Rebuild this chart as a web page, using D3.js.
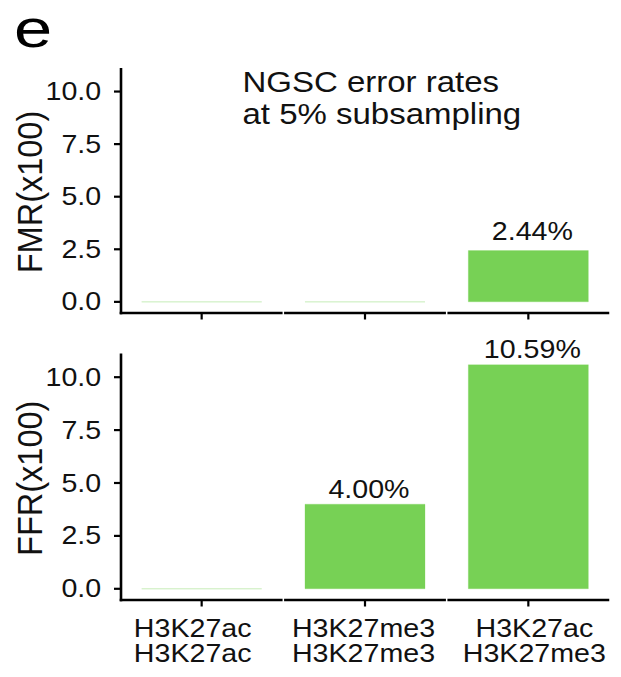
<!DOCTYPE html>
<html>
<head>
<meta charset="utf-8">
<script src="https://cdn.jsdelivr.net/npm/d3@7"></script>
<style>
  html, body { margin: 0; padding: 0; background: #fff; }
  svg { display: block; }
</style>
</head>
<body>
<svg id="chart" width="621" height="677"></svg>
<script>
// Pairs of marks compared (two lines per category label)
const categories = ["H3K27ac / H3K27ac", "H3K27me3 / H3K27me3", "H3K27ac / H3K27me3"];
// Error rates in percent (x100)
const fmrValues = [0.00, 0.00, 2.44];
const ffrValues = [0.00, 4.00, 10.59];
const yTicks = [0, 2.5, 5.0, 7.5, 10.0];
const titleLines = ["NGSC error rates", "at 5% subsampling"];
const panelLetter = "e";

const FONT = "'Liberation Sans', Arial, Helvetica, sans-serif";
const SX = 1.1;            // horizontal widening of the type
const GREEN = "#77d155";
const INK = "#111";
const AXIS_W = 2.6;

const svg = d3.select("#chart");

const x = d3.scaleBand()
  .domain(categories)
  .range([120, 610])
  .paddingInner(0.265)
  .paddingOuter(0.1325);

const vmax = d3.max(fmrValues.concat(ffrValues));
const yDomain = [-0.05 * vmax, 1.05 * vmax];

// Text helper: widened horizontally around its anchor point
function label(parent, px, py, str, size, anchor, rotate) {
  return parent.append("text")
    .attr("transform", `translate(${px},${py}) scale(${SX},1)` + (rotate ? ` rotate(${rotate})` : ""))
    .attr("font-family", FONT)
    .attr("font-size", size)
    .attr("fill", INK)
    .attr("text-anchor", anchor)
    .text(str);
}

// Panel letter
svg.append("text")
  .attr("transform", "translate(14,46.5) scale(1.27,1)")
  .attr("font-family", FONT)
  .attr("font-size", 54)
  .attr("fill", "#000")
  .text(panelLetter);

// Title
titleLines.forEach((s, i) => label(svg, 242.5, 91.5 + i * 32.3, s, 30, "start"));

const panels = [
  { title: "FMR(x100)", values: fmrValues, range: [313, 68],    labelGap: 11,  xLabels: false },
  { title: "FFR(x100)", values: ffrValues, range: [600, 353.5], labelGap: 6.5, xLabels: true }
];

const centers = categories.map(c => x(c) + x.bandwidth() / 2);
const midCenter = d3.mean(centers);

panels.forEach(p => {
  const y = d3.scaleLinear().domain(yDomain).range(p.range);
  const g = svg.append("g");
  const base = p.range[0];
  const axisX = 121;

  // Bars (drawn as paths so zero-height bars still show a faint hairline)
  g.selectAll("path.bar")
    .data(categories.map((c, i) => ({ c, v: p.values[i] })))
    .join("path")
    .attr("class", "bar")
    .attr("d", d => {
      const x0 = x(d.c), x1 = x0 + x.bandwidth();
      const y0 = y(0), y1 = y(d.v);
      return `M${x0},${y0}H${x1}V${y1}H${x0}Z`;
    })
    .attr("fill", GREEN)
    .attr("stroke", GREEN)
    .attr("stroke-opacity", 0.45)
    .attr("stroke-width", 0.5);

  // Value labels
  categories.forEach((c, i) => {
    const v = p.values[i];
    if (v > 0) {
      label(g, x(c) + x.bandwidth() / 2 + 4, y(v) - p.labelGap, v.toFixed(2) + "%", 26, "middle");
    }
  });

  // Y axis line and ticks
  g.append("line")
    .attr("x1", axisX).attr("x2", axisX)
    .attr("y1", p.range[1]).attr("y2", base + AXIS_W / 2)
    .attr("stroke", "#000").attr("stroke-width", AXIS_W);
  yTicks.forEach(t => {
    g.append("line")
      .attr("x1", axisX - 7).attr("x2", axisX)
      .attr("y1", y(t)).attr("y2", y(t))
      .attr("stroke", "#000").attr("stroke-width", 2.2);
    label(g, 101.2, y(t) + 26 * 0.33, t.toFixed(1), 26, "end");
  });

  // X axis: one segment per category, separated by small gaps
  const step = x.step(), gap = 1.5;
  centers.forEach((cx, i) => {
    const a = i === 0 ? axisX - AXIS_W / 2 : cx - step / 2 + gap / 2;
    const b = cx + step / 2 - gap / 2;
    g.append("line")
      .attr("x1", a).attr("x2", b)
      .attr("y1", base).attr("y2", base)
      .attr("stroke", "#000").attr("stroke-width", AXIS_W);
    g.append("line")
      .attr("x1", cx).attr("x2", cx)
      .attr("y1", base).attr("y2", base + 6.5)
      .attr("stroke", "#000").attr("stroke-width", 2.2);
  });

  // Y axis title
  label(g, 41.5, (p.range[0] + p.range[1]) / 2 + 1.5, p.title, 32.5, "middle", -90);

  // Category labels under the lower panel (two lines each)
  if (p.xLabels) {
    categories.forEach((c, i) => {
      const cx = centers[i] + (centers[i] - midCenter) * 0.046 - 1.5;
      c.split(" / ").forEach((line, j) => {
        label(g, cx, base + 36.7 + j * 25, line, 26, "middle");
      });
    });
  }
});
</script>
</body>
</html>
